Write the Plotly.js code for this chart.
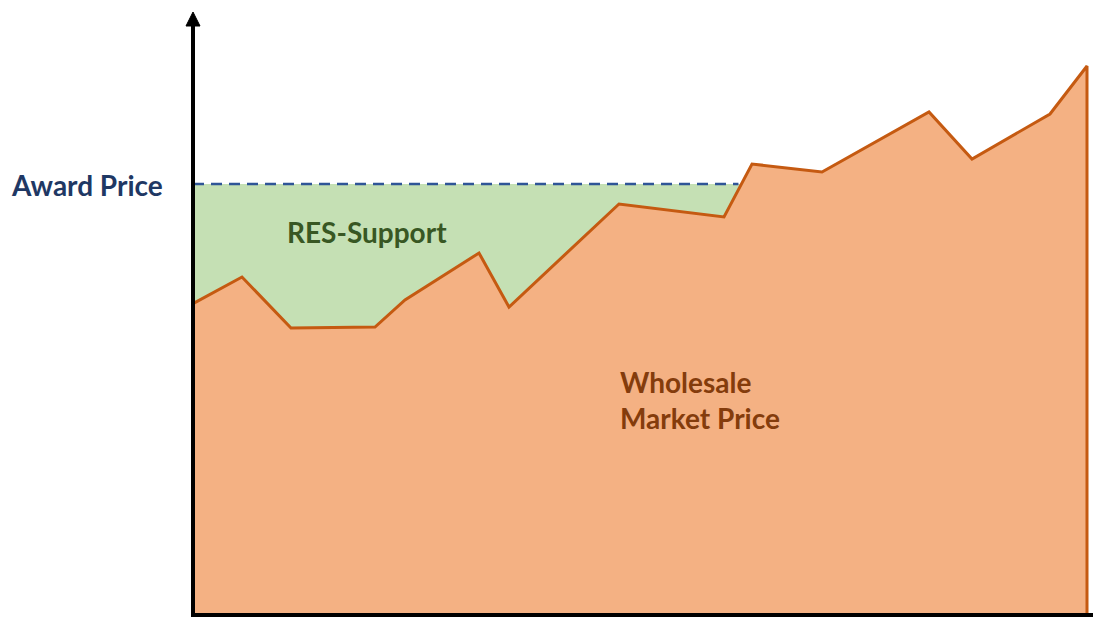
<!DOCTYPE html>
<html>
<head>
<meta charset="utf-8">
<script src="https://cdn.plot.ly/plotly-3.0.1.min.js"></script>
<style>html,body{margin:0;padding:0;background:#fff;}#chart{width:1093px;height:619px;}</style>
</head>
<body>
<div id="chart"></div>
<script>
// Time positions (arbitrary units) and wholesale market price (arbitrary units)
const timePoints = [3, 49, 98, 182, 212, 286, 316, 426, 531, 559, 629, 736, 779, 857, 894];
const wholesalePrice = [313, 338, 287, 288, 315, 362, 308, 411, 398, 451, 443, 503, 456, 501, 549];
const awardPrice = 431;
const awardLabel = 'Award Price';
const supportLabel = 'RES-Support';
const marketLabel = 'Wholesale<br>Market Price';

// crossing point where wholesale first exceeds award price
let crossX = timePoints[timePoints.length - 1], crossIdx = timePoints.length - 1;
for (let i = 1; i < timePoints.length; i++) {
  if (wholesalePrice[i] >= awardPrice && wholesalePrice[i - 1] < awardPrice) {
    const t = (awardPrice - wholesalePrice[i - 1]) / (wholesalePrice[i] - wholesalePrice[i - 1]);
    crossX = timePoints[i - 1] + t * (timePoints[i] - timePoints[i - 1]);
    crossIdx = i;
    break;
  }
}

// green support polygon: award price line on top, wholesale line below
const gx = [0, crossX], gy = [awardPrice, awardPrice];
for (let i = crossIdx - 1; i >= 0; i--) { gx.push(timePoints[i]); gy.push(wholesalePrice[i]); }
gx.push(0); gy.push(wholesalePrice[0] - (wholesalePrice[1]-wholesalePrice[0])/(timePoints[1]-timePoints[0])*timePoints[0]);

const lastX = timePoints[timePoints.length - 1];
const wx = [0].concat(timePoints, [lastX]);
const wy = [gy[gy.length - 1]].concat(wholesalePrice, [0]);

const traces = [
  { x: gx, y: gy, mode: 'lines', fill: 'toself', fillcolor: '#C5E0B4', line: { width: 0 }, hoverinfo: 'skip', showlegend: false },
  { x: wx, y: wy, mode: 'lines', fill: 'tozeroy', fillcolor: '#F4B183', line: { color: '#C55A11', width: 3 }, hoverinfo: 'skip', showlegend: false },
  { x: [0, crossX - 3], y: [awardPrice, awardPrice], mode: 'lines', line: { color: '#2F5597', width: 2.5, dash: '11px,7px' }, hoverinfo: 'skip', showlegend: false }
];

const fontFam = 'Lato, "Open Sans", sans-serif';
const layout = {
  width: 1093, height: 619,
  margin: { l: 0, r: 0, t: 0, b: 0 },
  paper_bgcolor: '#fff', plot_bgcolor: '#fff',
  xaxis: { range: [-193, 900], visible: false, fixedrange: true },
  yaxis: { range: [-4, 615], visible: false, fixedrange: true },
  shapes: [
    { type: 'line', xref: 'x', yref: 'y', x0: -2, x1: 900, y0: 0, y1: 0, line: { color: '#000', width: 4 } },
    { type: 'line', xref: 'x', yref: 'y', x0: 0, x1: 0, y0: -2, y1: 592, line: { color: '#000', width: 4 } },
    { type: 'path', xref: 'x', yref: 'y', path: 'M -7,589 L 0,603 L 7,589 Z', fillcolor: '#000', line: { color: '#000', width: 1 } }
  ],
  annotations: [
    { x: -184, y: awardPrice - 1, xref: 'x', yref: 'y', xanchor: 'left', yanchor: 'middle', showarrow: false, text: awardLabel, font: { family: fontFam, size: 28, color: '#1F3864', weight: 'bold' } },
    { x: 92, y: 383, xref: 'x', yref: 'y', xanchor: 'left', yanchor: 'middle', showarrow: false, text: supportLabel, font: { family: fontFam, size: 28, color: '#385723', weight: 'bold' } },
    { x: 425, y: 215, xref: 'x', yref: 'y', xanchor: 'left', yanchor: 'middle', align: 'left', showarrow: false, text: marketLabel, font: { family: fontFam, size: 28, color: '#843C0C', weight: 'bold' } }
  ]
};

Plotly.newPlot('chart', traces, layout, { displayModeBar: false, staticPlot: true });
</script>
</body>
</html>
